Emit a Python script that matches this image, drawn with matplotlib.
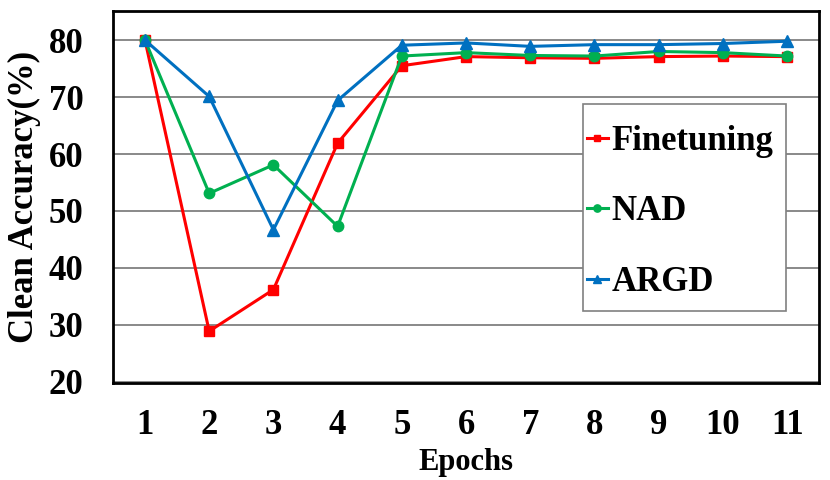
import matplotlib
matplotlib.use("Agg")
import matplotlib.pyplot as plt
from matplotlib.patches import Rectangle

epochs = [1, 2, 3, 4, 5, 6, 7, 8, 9, 10, 11]
finetuning = [80.0, 28.9, 36.2, 61.9, 75.5, 77.1, 76.9, 76.8, 77.1, 77.2, 77.1]
nad = [80.0, 53.1, 58.1, 47.3, 77.2, 77.8, 77.3, 77.2, 78.0, 77.8, 77.2]
argd = [80.0, 70.1, 46.7, 69.4, 79.1, 79.5, 78.9, 79.2, 79.2, 79.4, 79.8]
yticks = [20, 30, 40, 50, 60, 70, 80]

plt.rcParams["font.family"] = ["Liberation Serif", "DejaVu Serif"]
plt.rcParams["font.weight"] = "bold"

fig = plt.figure(figsize=(8.3, 4.8), dpi=100)
ax = fig.add_axes([0.136, 0.202, 0.851, 0.775])

ax.plot(epochs, finetuning, color="#FF0000", marker="s", markersize=7,
        linewidth=2.2, label="Finetuning", zorder=3)
ax.plot(epochs, nad, color="#00B050", marker="o", markersize=7.5,
        linewidth=2.2, label="NAD", zorder=4)
ax.plot(epochs, argd, color="#0070C0", marker="^", markersize=8,
        linewidth=2.2, label="ARGD", zorder=5)

ax.set_xlim(0.5, 11.5)
ax.set_ylim(19.8, 85.1)
ax.set_xticks(epochs)
ax.set_yticks(yticks)
ax.tick_params(axis="both", length=0, labelsize=25)
ax.tick_params(axis="y", pad=21)
ax.tick_params(axis="x", pad=19)
ax.grid(True, axis="y", color="#808080", linewidth=1.3)
ax.set_axisbelow(True)
for s in ax.spines.values():
    s.set_linewidth(2)
    s.set_color("black")

ax.set_xlabel("Epochs", fontsize=22, fontweight="bold", labelpad=4)
ax.set_ylabel("Clean Accuracy(%)", fontsize=25, fontweight="bold", labelpad=6)

# legend box drawn separately so padding can be uneven like the original
ax.add_patch(Rectangle((0.666, 0.194), 0.287, 0.556, transform=ax.transAxes,
                       facecolor="white", edgecolor="#808080", linewidth=1.2,
                       zorder=6))
leg = ax.legend(loc="upper left", bbox_to_anchor=(0.671, 0.694),
                fontsize=25, handlelength=0.6, handletextpad=0.1,
                labelspacing=1.08, borderpad=0, markerscale=0.7,
                frameon=False, borderaxespad=0)
leg.set_zorder(7)
for t in leg.get_texts():
    t.set_fontweight("bold")

fig.savefig("out.png", dpi=100)
